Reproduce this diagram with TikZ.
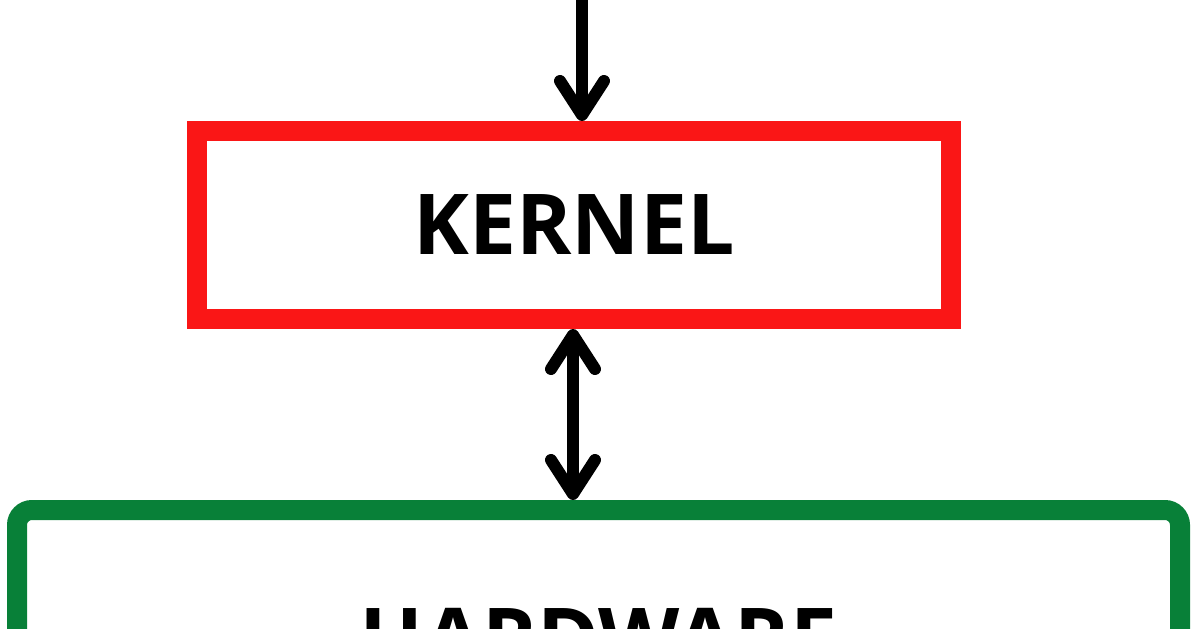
\documentclass[tikz,border=0pt]{standalone}
\usepackage{fontspec}
\setmainfont{Open Sans}
\usetikzlibrary{arrows.meta,positioning}
\definecolor{kernelred}{RGB}{250,22,22}
\definecolor{hwgreen}{RGB}{8,128,56}
\tikzset{font=\fontsize{42}{50}\selectfont\bfseries}
\tikzstyle{layer}=[rectangle,draw,line width=10pt,inner sep=0pt]
\tikzstyle{flow}=[line width=6pt,line cap=round]
\tikzset{barb/.tip={Straight Barb[length=17pt,width=22pt,line cap=round,line join=round]}}

\begin{document}
\begin{tikzpicture}[x=0.5pt,y=-0.5pt]
\useasboundingbox (0,0) rectangle (1196,628);
\node[layer,draw=kernelred,minimum width=377pt,minimum height=94pt] (K) at (574,225) {KERNEL};
\node[layer,draw=hwgreen,rounded corners=7.5pt,minimum width=581.5pt,minimum height=128pt] (H) at (598.5,638) {HARDWARE};
\coordinate (U) at (582,-10);
\coordinate (D) at (573,0);
\path[flow,-barb]
(U) edge (U |- K.north);
\path[flow,barb-barb]
(D |- K.south) edge (D |- H.north);
\end{tikzpicture}
\end{document}
